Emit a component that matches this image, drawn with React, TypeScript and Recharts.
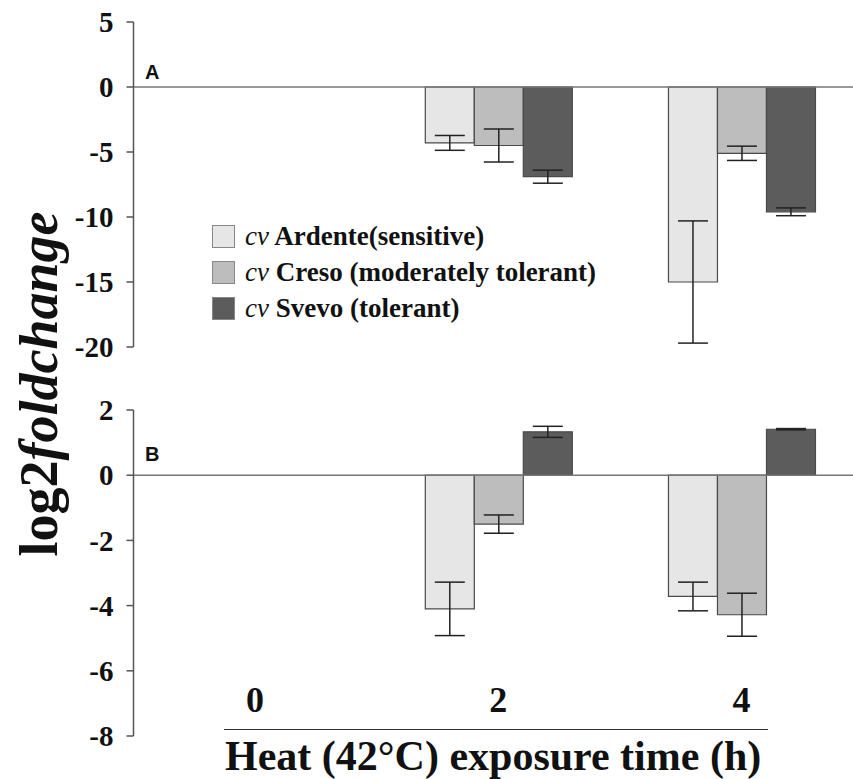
import { BarChart, Bar, XAxis, YAxis, ReferenceLine, ErrorBar } from 'recharts';

// exposure time (h)
const times = ['0', '2', '4'];

// panel A
const ardenteA = [0, -4.3, -15.0];
const ardenteAErr = [null, 0.57, 4.7];
const cresoA = [0, -4.5, -5.1];
const cresoAErr = [null, 1.27, 0.55];
const svevoA = [0, -6.9, -9.6];
const svevoAErr = [null, 0.5, 0.3];
const ticksA = [5, 0, -5, -10, -15, -20];

// panel B
const ardenteB = [0, -4.1, -3.72];
const ardenteBErr = [null, 0.82, 0.44];
const cresoB = [0, -1.5, -4.28];
const cresoBErr = [null, 0.28, 0.66];
const svevoB = [0, 1.33, 1.41];
const svevoBErr = [null, 0.17, 0.02];
const ticksB = [2, 0, -2, -4, -6, -8];

const series = [
  { key: 'ardente', name: 'Ardente(sensitive)', fill: '#e6e6e6' },
  { key: 'creso', name: 'Creso (moderately tolerant)', fill: '#bdbdbd' },
  { key: 'svevo', name: 'Svevo (tolerant)', fill: '#5c5c5c' },
];

const dataA = times.map((t, i) => ({
  time: t,
  ardente: ardenteA[i], ardenteErr: ardenteAErr[i],
  creso: cresoA[i], cresoErr: cresoAErr[i],
  svevo: svevoA[i], svevoErr: svevoAErr[i],
}));

const dataB = times.map((t, i) => ({
  time: t,
  ardente: ardenteB[i], ardenteErr: ardenteBErr[i],
  creso: cresoB[i], cresoErr: cresoBErr[i],
  svevo: svevoB[i], svevoErr: svevoBErr[i],
}));

const SERIF = '"Liberation Serif", serif';
const SANS = '"Liberation Sans", sans-serif';
const CHART_W = 870;
const AXIS_W = 133.5;
const MARGIN_R = 7;

// y tick labels, serif bold, set a bit further from the axis
function YTick({ x, y, payload }: any) {
  return (
    <text x={x - 11} y={y} dy="0.35em" textAnchor="end" fontFamily={SERIF} fontWeight={700} fontSize={29} fill="#111">
      {payload.value}
    </text>
  );
}

function LegendBox() {
  return (
    <div style={{ position: 'absolute', left: 212, top: 218, fontFamily: SERIF, fontWeight: 700, fontSize: 27, color: '#111', whiteSpace: 'nowrap' }}>
      {series.map((s) => (
        <div key={s.key} style={{ display: 'flex', alignItems: 'center', height: 36 }}>
          <span style={{ width: 21, height: 21, background: s.fill, border: '1px solid #888', marginRight: 10, display: 'inline-block' }} />
          <span><i style={{ fontWeight: 400 }}>cv</i> {s.name}</span>
        </div>
      ))}
    </div>
  );
}

function Panel({ data, domain, ticks, top, marginTop, marginBottom }: any) {
  return (
    <div style={{ position: 'absolute', left: 0, top }}>
      <BarChart
        width={CHART_W}
        height={360}
        data={data}
        margin={{ top: marginTop, right: MARGIN_R, bottom: marginBottom, left: 0 }}
        barCategoryGap="20%"
        barGap={0}
      >
        <XAxis dataKey="time" hide />
        <YAxis
          width={AXIS_W}
          domain={domain}
          ticks={ticks}
          interval={0}
          allowDataOverflow
          axisLine={{ stroke: '#555', strokeWidth: 1.5 }}
          tickLine={{ stroke: '#555', strokeWidth: 1.5 }}
          tickSize={7}
          tick={<YTick />}
        />
        {series.map((s) => (
          <Bar key={s.key} dataKey={s.key} name={s.name} fill={s.fill} stroke="#4a4a4a" strokeWidth={1.2} isAnimationActive={false}>
            <ErrorBar dataKey={`${s.key}Err`} width={15} stroke="#222" strokeWidth={1.5} isAnimationActive={false} />
          </Bar>
        ))}
        <ReferenceLine y={0} stroke="#777" strokeWidth={1.5} />
      </BarChart>
    </div>
  );
}

export default function App() {
  return (
    <div style={{ position: 'absolute', left: 0, top: 0, width: 853, height: 779, overflow: 'hidden', background: '#fff' }}>
      <Panel data={dataA} domain={[-20, 5]} ticks={ticksA} top={0} marginTop={22} marginBottom={13} />
      <Panel data={dataB} domain={[-8, 2]} ticks={ticksB} top={390} marginTop={20} marginBottom={14} />
      <LegendBox />

      {/* shared time axis */}
      <div style={{ position: 'absolute', left: 0, top: 676 }}>
        <BarChart width={CHART_W} height={60} data={dataA} margin={{ top: 0, right: MARGIN_R, bottom: 0, left: AXIS_W }}>
          <XAxis
            dataKey="time"
            height={50}
            axisLine={false}
            tickLine={false}
            tickSize={0}
            tickMargin={0}
            interval={0}
            tick={{ fontFamily: SERIF, fontWeight: 700, fontSize: 36, fill: '#111' }}
          />
        </BarChart>
      </div>
      <div style={{ position: 'absolute', left: 224, top: 729, width: 544, height: 0, borderTop: '1.5px solid #333' }} />
      <div style={{ position: 'absolute', left: 225, top: 733, fontFamily: SERIF, fontWeight: 700, fontSize: 42, lineHeight: '46px', color: '#111', whiteSpace: 'nowrap' }}>
        Heat (42°C) exposure time (h)
      </div>

      {/* y label */}
      <div
        style={{
          position: 'absolute', left: 39, top: 384, transform: 'translate(-50%, -50%) rotate(-90deg)',
          fontFamily: SERIF, fontWeight: 700, fontSize: 54, color: '#111', whiteSpace: 'nowrap', lineHeight: 1,
        }}
      >
        log2<i>foldchange</i>
      </div>

      <div style={{ position: 'absolute', left: 145, top: 62, lineHeight: 1, fontFamily: SANS, fontWeight: 700, fontSize: 20, color: '#111' }}>A</div>
      <div style={{ position: 'absolute', left: 145, top: 444, lineHeight: 1, fontFamily: SANS, fontWeight: 700, fontSize: 20, color: '#111' }}>B</div>
    </div>
  );
}
